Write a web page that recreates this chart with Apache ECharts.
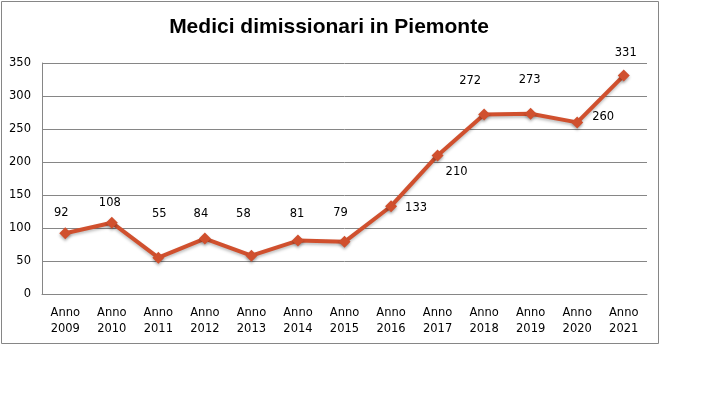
<!DOCTYPE html>
<html>
<head>
<meta charset="utf-8">
<script src="https://cdn.jsdelivr.net/npm/echarts@6/dist/echarts.min.js"></script>
<style>
html,body{margin:0;padding:0;background:#fff;}
#main{width:712px;height:397px;}
</style>
</head>
<body>
<div id="main"></div>
<script>
// dati
var anni = ['Anno\n2009','Anno\n2010','Anno\n2011','Anno\n2012','Anno\n2013','Anno\n2014','Anno\n2015',
            'Anno\n2016','Anno\n2017','Anno\n2018','Anno\n2019','Anno\n2020','Anno\n2021'];
var medici = [92, 108, 55, 84, 58, 81, 79, 133, 210, 272, 273, 260, 331];
var yTicks = [0, 50, 100, 150, 200, 250, 300, 350];

// spostamento etichette (come nel grafico excel)
var labelOffsets = [[-4,-20],[-2,-20],[1,-44],[-4,-25],[-8,-42],[-1,-27],[-4,-29],
                    [25,2],[19,17],[-14,-33],[-1,-34],[26,-5],[2,-23]];

var myChart = echarts.init(document.getElementById('main'));

var dati = medici.map(function (v, i) {
    return {
        value: v,
        label: {offset: labelOffsets[i]}
    };
});

var option = {
    backgroundColor: '#fff',
    animation: false,
    title: {
        text: 'Medici dimissionari in Piemonte',
        left: 324,
        textAlign: 'center',
        top: 12,
        textStyle: {
            fontFamily: 'Liberation Sans',
            fontWeight: 'bold',
            fontSize: 21,
            color: '#000'
        }
    },
    graphic: [{
        type: 'rect',
        shape: {x: 1.5, y: 1.5, width: 657, height: 342},
        style: {fill: 'none', stroke: '#868686', lineWidth: 1},
        z: -1
    }],
    grid: {left: 42, right: 65, top: 63, bottom: 103},
    xAxis: {
        type: 'category',
        data: anni,
        boundaryGap: true,
        axisLine: {lineStyle: {color: '#868686', width: 1}},
        axisTick: {show: false},
        axisLabel: {
            interval: 0,
            margin: 11,
            lineHeight: 16,
            fontFamily: 'DejaVu Sans',
            fontSize: 11.5,
            color: '#000'
        }
    },
    yAxis: {
        type: 'value',
        min: yTicks[0],
        max: yTicks[yTicks.length - 1],
        interval: 50,
        axisLine: {show: true, lineStyle: {color: '#868686', width: 1}},
        axisTick: {show: false},
        splitLine: {lineStyle: {color: '#868686', width: 1}},
        axisLabel: {
            margin: 11,
            fontFamily: 'DejaVu Sans',
            fontSize: 11.5,
            color: '#000'
        }
    },
    series: [{
        name: 'Medici dimissionari',
        type: 'line',
        data: dati,
        symbol: 'diamond',
        symbolSize: 12,
        lineStyle: {
            color: '#D0502E',
            width: 4,
            shadowColor: 'rgba(0,0,0,0.25)',
            shadowBlur: 3,
            shadowOffsetY: 2
        },
        itemStyle: {
            color: '#D0502E',
            borderWidth: 0,
            shadowColor: 'rgba(0,0,0,0.3)',
            shadowBlur: 3,
            shadowOffsetY: 2
        },
        label: {
            show: true,
            position: 'inside',
            fontFamily: 'DejaVu Sans',
            fontSize: 11.5,
            color: '#000'
        }
    }]
};

myChart.setOption(option);
</script>
</body>
</html>
